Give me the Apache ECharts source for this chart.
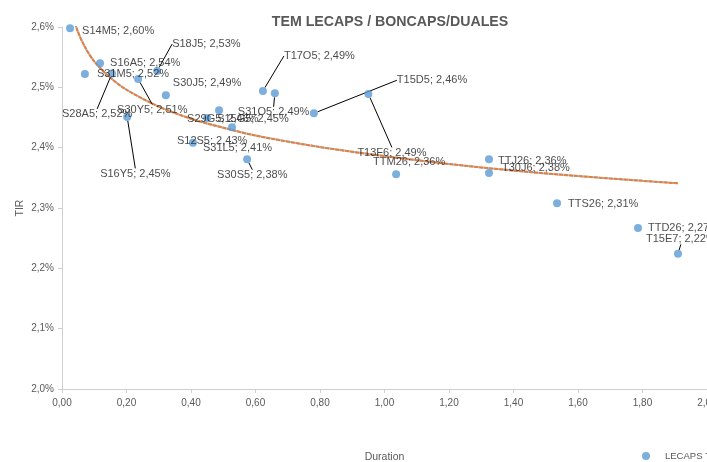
<!DOCTYPE html>
<html>
<head>
<meta charset="utf-8">
<script src="https://cdn.jsdelivr.net/npm/echarts@6/dist/echarts.min.js"></script>
<style>html,body{margin:0;padding:0;background:#fff}#c{width:707px;height:462px}</style>
</head>
<body>
<div id="c"></div>
<script>
// ---- data ----
const names = ['S14M5','S31M5','S16A5','S28A5','S16Y5','S30Y5','S18J5','S30J5','S31L5','S15G5','S29G5','S12S5','S30S5','T17O5','S31O5','T15D5','T13F6','TTM26','TTJ26','T30J6','TTS26','TTD26','T15E7'];
const duration = [0.025,0.071,0.118,0.155,0.202,0.236,0.295,0.322,0.406,0.450,0.487,0.527,0.574,0.623,0.660,0.781,0.950,1.036,1.324,1.324,1.535,1.786,1.910];
const tir = [2.598,2.522,2.540,2.523,2.451,2.514,2.527,2.487,2.408,2.449,2.462,2.434,2.381,2.494,2.490,2.457,2.489,2.356,2.358,2.381,2.308,2.267,2.224];
// trend line
const trendX = [0.025,0.046,0.07,0.1,0.15,0.2,0.3,0.4,0.5,0.6,0.8,1.0,1.2,1.4,1.6,1.8,1.91];
const trendY = [2.639,2.597,2.568,2.543,2.516,2.496,2.468,2.448,2.433,2.420,2.401,2.386,2.373,2.362,2.353,2.345,2.341];
const xTicks = [0,0.2,0.4,0.6,0.8,1.0,1.2,1.4,1.6,1.8,2.0];
const yTicks = [2.0,2.1,2.2,2.3,2.4,2.5,2.6];

// ---- label layout (style, not data) ----
const labelShift = {
  S14M5:[4,3], S31M5:[4,0], S16A5:[2,0], S28A5:[-58,41], S16Y5:[-35,57], S30Y5:[-29,31],
  S18J5:[7,-27], S30J5:[-1,-12], S31L5:[2,5], S15G5:[2,1], S29G5:[-40,9], S12S5:[-63,14],
  S30S5:[-38,16], T17O5:[13,-35], S31O5:[-45,19], T15D5:[75,-33], T13F6:[-19,59],
  TTM26:[-31,-12], TTJ26:[1,-12], T30J6:[5,9], TTS26:[3,1], TTD26:[2,0], T15E7:[-40,-15]
};
const leaders = ['S28A5','S18J5','S30Y5','S16Y5','S30S5','T17O5','S31O5','T15D5','T13F6','T15E7'];

const fmt = v => v.toFixed(2).replace('.', ',');
const scatterData = names.map((n, i) => ({
  name: n,
  value: [duration[i], tir[i]],
  labelLine: { show: leaders.includes(n) }
}));
const trendData = trendX.map((x, i) => [x, trendY[i]]);

const FONT = 'Liberation Sans';
const chart = echarts.init(document.getElementById('c'), null, { renderer: 'canvas' });
chart.setOption({
  animation: false,
  backgroundColor: '#ffffff',
  textStyle: { fontFamily: FONT },
  title: {
    text: 'TEM LECAPS / BONCAPS/DUALES',
    left: 385, top: 10, textAlign: 'center',
    textStyle: { fontFamily: FONT, fontSize: 14.2, fontWeight: 'bold', color: '#595959' }
  },
  legend: {
    data: [{ name: 'LECAPS TIR', icon: 'circle' }],
    left: 637, top: 446,
    itemWidth: 20, itemHeight: 8, itemGap: 5,
    textStyle: { fontFamily: FONT, fontSize: 9.5, color: '#595959', padding: [0,0,0,4] }
  },
  grid: { left: 62, top: 27, right: 0, bottom: 73, containLabel: false, outerBoundsMode: 'none' },
  xAxis: {
    type: 'value', min: xTicks[0], max: xTicks[xTicks.length-1], interval: 0.2,
    name: 'Duration', nameLocation: 'middle', nameGap: 63, nameMoveOverlap: false,
    nameTextStyle: { fontFamily: FONT, fontSize: 10.5, color: '#595959' },
    axisLine: { show: true, lineStyle: { color: '#cfcfcf', width: 1 } },
    axisTick: { show: true, length: 4, lineStyle: { color: '#cfcfcf' } },
    axisLabel: { fontFamily: FONT, fontSize: 10, color: '#595959', margin: 9,
      formatter: v => v.toFixed(2).replace('.', ',') },
    splitLine: { show: false }
  },
  yAxis: {
    type: 'value', min: yTicks[0], max: yTicks[yTicks.length-1], interval: 0.1,
    name: 'TIR', nameLocation: 'middle', nameGap: 36, nameRotate: 90, nameMoveOverlap: false,
    nameTextStyle: { fontFamily: FONT, fontSize: 10.5, color: '#595959' },
    axisLine: { show: true, lineStyle: { color: '#cfcfcf', width: 1 } },
    axisTick: { show: true, length: 4, lineStyle: { color: '#cfcfcf' } },
    axisLabel: { fontFamily: FONT, fontSize: 10, color: '#595959', margin: 8,
      formatter: v => v.toFixed(1).replace('.', ',') + '%' },
    splitLine: { show: false }
  },
  series: [
    {
      name: 'trend_base', type: 'line', data: trendData, smooth: 0.3,
      showSymbol: false, silent: true, z: 1, clip: true,
      lineStyle: { color: '#9DC3E6', width: 2 }
    },
    {
      name: 'trend', type: 'line', data: trendData, smooth: 0.3,
      showSymbol: false, silent: true, z: 2, clip: true,
      lineStyle: { color: '#ED7D31', width: 2, type: [4, 1] }
    },
    {
      name: 'LECAPS TIR', type: 'scatter', data: scatterData, z: 3,
      symbol: 'circle', symbolSize: 8,
      itemStyle: { color: '#5B9BD5' },
      label: {
        show: true, position: 'right', distance: 4,
        fontFamily: FONT, fontSize: 11, color: '#1a1a1a',
        formatter: p => p.name + '; ' + fmt(p.value[1]) + '%'
      },
      labelLine: { show: false, lineStyle: { color: '#000000', width: 1 }, length2: 0 },
      labelLayout: p => {
        const s = labelShift[names[p.dataIndex]] || [0, 0];
        return { dx: s[0], dy: s[1] };
      }
    }
  ]
});
</script>
</body>
</html>
